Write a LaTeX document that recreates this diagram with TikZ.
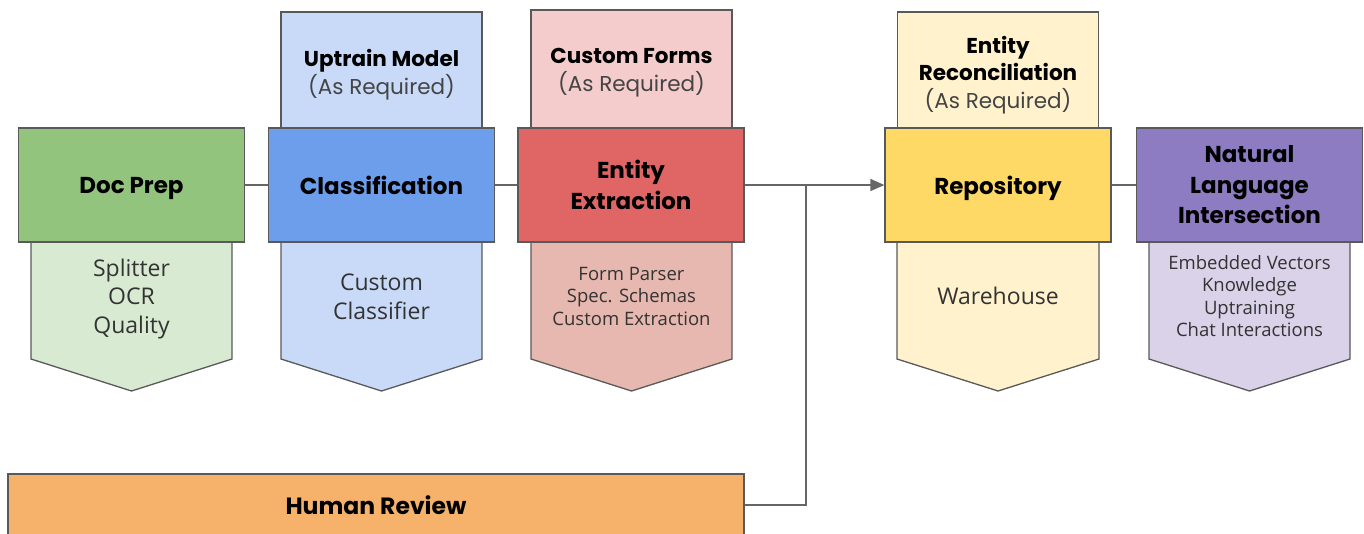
\documentclass[tikz,border=0pt]{standalone}
\usepackage{fontspec}
\setmainfont{Poppins}
\newfontfamily\bodyfont{Open Sans}
\usetikzlibrary{arrows.meta}
\definecolor{greenD}{HTML}{93C47D}
\definecolor{greenL}{HTML}{D9EAD3}
\definecolor{blueD}{HTML}{6D9EEB}
\definecolor{blueL}{HTML}{C9DAF8}
\definecolor{redD}{HTML}{E06666}
\definecolor{redU}{HTML}{F4CCCC}
\definecolor{redL}{HTML}{E6B8AF}
\definecolor{yellowD}{HTML}{FFD966}
\definecolor{yellowL}{HTML}{FFF2CC}
\definecolor{purpleD}{HTML}{8E7CC3}
\definecolor{purpleL}{HTML}{D9D2E9}
\definecolor{orangeD}{HTML}{F6B26B}
\definecolor{bordercol}{HTML}{595959}
\definecolor{linecol}{HTML}{666666}
\definecolor{txtgray}{HTML}{333333}
\definecolor{reqgray}{HTML}{444444}
\newcommand\lowerpent[3]{\filldraw[outline,fill=#3] (#1,242) -- (#1,359) -- ({(#1+#2)/2},391) -- (#2,359) -- (#2,242) -- cycle;}
\begin{document}
\begin{tikzpicture}[x=1pt,y=-1pt,
  outline/.style={draw=bordercol, line width=1.3pt, line join=miter},
  mainbox/.style={outline, rectangle, minimum width=226pt, minimum height=114pt, inner sep=0pt, align=center, text=black, font=\fontsize{23}{30.5}\selectfont\bfseries},
  topbox/.style={outline, rectangle, minimum width=201pt, inner sep=0pt},
  toptext/.style={align=center, inner sep=0pt, text=black, font=\fontsize{21.5}{27.8}\selectfont},
  subtext/.style={align=center, text=txtgray, inner sep=0pt, font=\bodyfont\fontsize{23}{28.7}\selectfont},
  smalltext/.style={align=center, text=txtgray, inner sep=0pt, font=\bodyfont\fontsize{18.5}{22.5}\selectfont},
  link/.style={draw=linecol, line width=1.5pt}]
\useasboundingbox (0,0) rectangle (1364,533);

% upper boxes
\node[topbox, fill=blueL, minimum height=116pt] (clsup) at (381.5,70) {};
\node[topbox, fill=redU, minimum height=118pt] (extup) at (631.5,69) {};
\node[topbox, fill=yellowL, minimum height=116pt] (repup) at (998,70) {};
\node[toptext] (clsuptxt) at (381.5,75) {\textbf{Uptrain Model}\\\textcolor{reqgray}{(As Required)}};
\node[toptext] (extuptxt) at (631.5,73) {\textbf{Custom Forms}\\\textcolor{reqgray}{(As Required)}};
\node[toptext] (repuptxt) at (998,75) {\textbf{Entity}\\\textbf{Reconciliation}\\\textcolor{reqgray}{(As Required)}};

% lower pentagons
\lowerpent{31}{232}{greenL}
\lowerpent{281}{482}{blueL}
\lowerpent{531}{732}{redL}
\lowerpent{897}{1099}{yellowL}
\lowerpent{1149}{1350}{purpleL}

\node[subtext] (doclow) at (131.5,299) {Splitter\\OCR\\Quality};
\node[subtext] (clslow) at (381.5,297) {Custom\\Classifier};
\node[smalltext] (extlow) at (631.5,296) {Form Parser\\Spec. Schemas\\Custom Extraction};
\node[subtext] (replow) at (998,296) {Warehouse};
\node[smalltext] (nlilow) at (1249.5,296) {Embedded Vectors\\Knowledge\\Uptraining\\Chat Interactions};

% main boxes
\node[mainbox, fill=greenD, text depth=0pt] (doc) at (131.5,185) {Doc Prep};
\node[mainbox, fill=blueD] (cls) at (381.5,185) {Classification};
\node[mainbox, fill=redD] (ext) at (631,185) {Entity\\Extraction};
\node[mainbox, fill=yellowD, text depth=0pt] (rep) at (998,185) {Repository};
\node[mainbox, fill=purpleD] (nli) at (1249.5,185) {Natural\\Language\\Intersection};

\node[outline, fill=orangeD, minimum width=736pt, minimum height=62pt, inner sep=0pt, text=black, font=\fontsize{23.5}{28}\selectfont\bfseries] (hr) at (376,505) {Human Review};

% connectors
\draw[link] (doc) -- (cls);
\draw[link] (cls) -- (ext);
\draw[link, -{Triangle[length=14pt, width=12pt]}] (ext) -- (rep);
\draw[link] (rep) -- (nli);
\coordinate (join) at (806,185);
\draw[link] (hr.east) -| (join);
\end{tikzpicture}
\end{document}
